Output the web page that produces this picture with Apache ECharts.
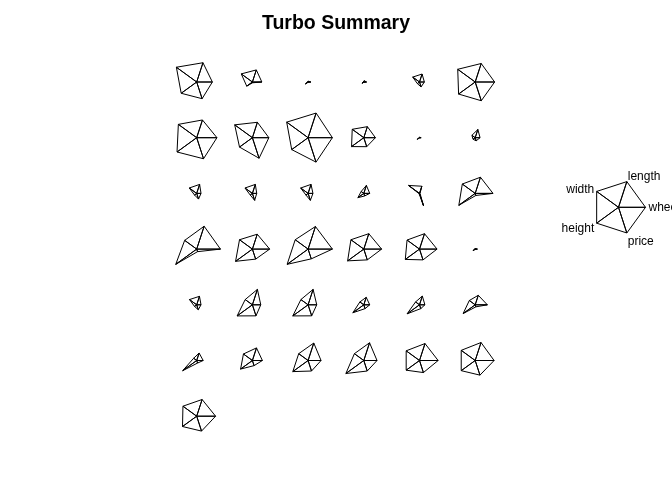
<!DOCTYPE html>
<html><head><meta charset="utf-8">
<script src="https://cdn.jsdelivr.net/npm/echarts@6/dist/echarts.min.js"></script>
<style>html,body{margin:0;padding:0;background:#fff}#c{width:672px;height:480px}</style>
</head><body><div id="c"></div>
<script>
const variables = ['wheel-base', 'length', 'width', 'height', 'price'];
// scaled (0..1) values per car, row-major order of the star grid
const wheelBase = [.58,.35,.10,.10,.18,.72, .75,.61,.90,.43,.06,.18, .16,.16,.18,.22,.02,.66, .88,.64,.90,.66,.65,.08, .16,.31,.32,.22,.20,.45, .24,.37,.48,.49,.69,.70, .70];
const lengthV   = [.75,.47,.03,.05,.31,.72, .69,.60,.96,.43,.02,.32, .35,.35,.35,.31,.28,.63, .89,.58,.88,.60,.60,.02, .33,.60,.60,.29,.34,.37, .29,.49,.68,.69,.66,.70, .65];
const widthV    = [.93,.51,.02,.02,.31,.80, .84,.81,.98,.53,.02,.15, .34,.34,.34,.12,.50,.59, .55,.59,.59,.59,.57,.02, .33,.33,.33,.18,.18,.27, .14,.41,.43,.43,.61,.64, .63];
const heightV   = [.71,.26,.12,.08,.10,.76, .90,.59,.75,.56,.10,.10, .10,.10,.10,.27,.02,.75, .96,.77,.96,.74,.65,.10, .10,.70,.70,.50,.57,.55, .64,.54,.70,.82,.61,.64, .65];
const priceV    = [.65,.03,.01,.01,.19,.73, .82,.80,.95,.35,.01,.12, .22,.27,.27,.10,.48,.08, .10,.39,.38,.42,.42,.01, .19,.43,.43,.15,.15,.08, .10,.20,.41,.41,.47,.57, .58];
const keyValues = [1, 1, 1, 1, 1];

const chart = echarts.init(document.getElementById('c'), null, {renderer: 'canvas'});
const nCols = 6, x0 = 196.7, y0 = 82, step = 55.7, R = 27;
const radars = [], series = [];
const indicator = variables.map(n => ({name: n, min: 0, max: 1}));

function starItems(vals) {
  const items = [{value: vals}];
  for (let k = 0; k < vals.length; k++) {
    const v = vals.map((_, j) => j === k ? vals[k] : 0);
    items.push({value: v});
  }
  return items;
}
const lineStyle = {color: '#000', width: 1};
for (let i = 0; i < wheelBase.length; i++) {
  const col = i % nCols, row = Math.floor(i / nCols);
  radars.push({
    center: [x0 + col * step, y0 + row * step], radius: R, startAngle: 0,
    indicator, shape: 'polygon', splitNumber: 1,
    axisName: {show: false}, axisLine: {show: false}, splitLine: {show: false},
    splitArea: {show: false}, axisTick: {show: false}, axisLabel: {show: false}
  });
  const vals = [wheelBase[i], lengthV[i], widthV[i], heightV[i], priceV[i]];
  series.push({type: 'radar', radarIndex: i, symbol: 'none', silent: true,
    lineStyle, data: starItems(vals)});
}
// key
const keyShift = {'length': 'up', 'height': 'dn', 'price': 'dn2'};
radars.push({
  center: [618.5, 207.3], radius: R, startAngle: 0, indicator, shape: 'polygon', splitNumber: 1,
  nameGap: 3,
  axisName: {show: true, color: '#000', fontSize: 12, fontFamily: 'Liberation Sans, Arial, sans-serif',
    verticalAlign: 'middle',
    formatter: (name) => keyShift[name] ? '{' + keyShift[name] + '|' + name + '}' : name,
    rich: {
      up: {fontSize: 12, color: '#000', padding: [0, 0, 4, 0]},
      dn: {fontSize: 12, color: '#000', padding: [8, 0, 0, 0]},
      dn2: {fontSize: 12, color: '#000', padding: [12, 0, 0, 0]}
    }},
  axisLine: {show: false}, splitLine: {show: false}, splitArea: {show: false},
  axisTick: {show: false}, axisLabel: {show: false}
});
series.push({type: 'radar', radarIndex: radars.length - 1, symbol: 'none', silent: true,
  lineStyle, data: starItems(keyValues)});

chart.setOption({
  animation: false,
  backgroundColor: '#fff',
  title: {text: 'Turbo Summary', left: 'center', top: 9,
    textStyle: {fontSize: 19.5, fontWeight: 'bold', color: '#000', fontFamily: 'Liberation Sans, Arial, sans-serif'}},
  radar: radars,
  series
});
</script></body></html>
